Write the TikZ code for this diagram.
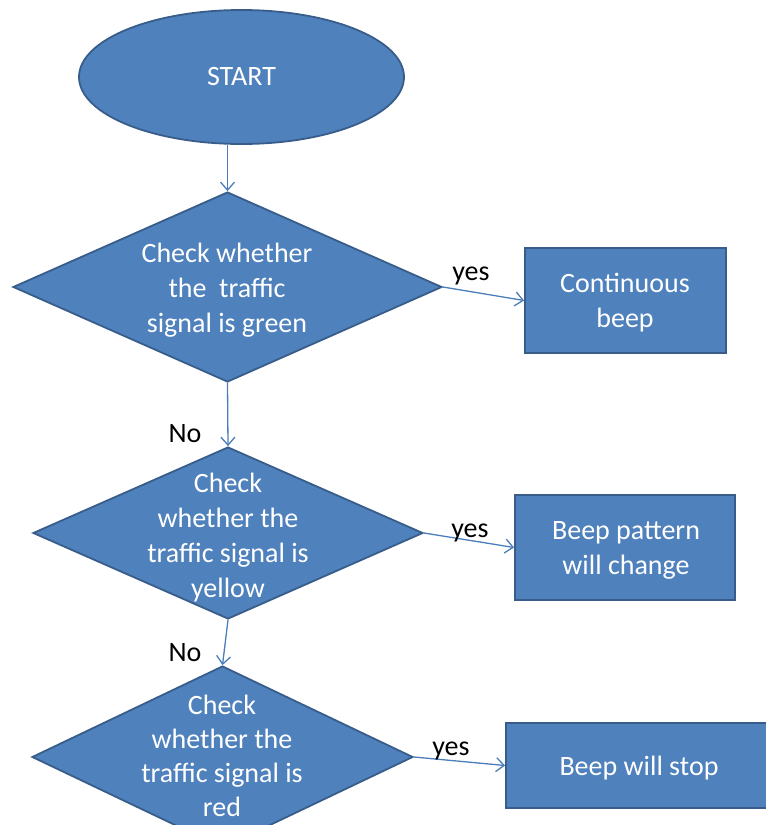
\documentclass[tikz,border=0pt]{standalone}
\usepackage{fontspec}
\setmainfont{Carlito}
\usetikzlibrary{shapes.geometric,arrows.meta}
\definecolor{fillblue}{HTML}{4F81BD}
\definecolor{edgeblue}{HTML}{385D8A}
\definecolor{lineblue}{HTML}{4A7EBB}
\begin{document}
\begin{tikzpicture}[x=1pt,y=-1pt,
  shapebox/.style={draw=edgeblue,line width=1.8pt,fill=fillblue,inner sep=0pt},
  txt/.style={text=white,font=\fontsize{28}{35}\selectfont,align=center,inner sep=0pt},
  lbl/.style={text=black,font=\fontsize{28}{35}\selectfont,inner sep=0pt,anchor=base},
  arr/.style={draw=lineblue,line width=1.3pt,-{Straight Barb[length=8pt,width=14pt,line width=1.3pt]}}]
\useasboundingbox (0,0) rectangle (766,825);
\clip (0,0) rectangle (766,825);
% start
\node[shapebox,ellipse,minimum width=325pt,minimum height=134pt] (start) at (241.5,77) {};
\node[txt] (starttxt) at (start.center) {START};
% decisions
\node[shapebox,diamond,minimum width=429pt,minimum height=190pt] (d1) at (227.5,287) {};
\node[txt] (d1t) at (227,290) {Check whether\\the~ traffic\\signal is green};
\node[shapebox,diamond,minimum width=390pt,minimum height=172pt] (d2) at (228,533) {};
\node[txt] (d2t) at (228,537.5) {Check\\whether the\\traffic signal is\\yellow};
\node[shapebox,diamond,minimum width=381pt,minimum height=182pt] (d3) at (222.5,757) {};
\node[txt,font=\fontsize{28}{34}\selectfont] (d3t) at (222,755.5) {Check\\whether the\\traffic signal is\\red};
% actions
\node[shapebox,rectangle,minimum width=201pt,minimum height=105pt] (b1) at (625.5,300.5) {};
\node[txt] (b1t) at (625,303) {Continuous\\beep};
\node[shapebox,rectangle,minimum width=220pt,minimum height=105pt] (b2) at (625,547.5) {};
\node[txt] (b2t) at (626,550) {Beep pattern\\will change};
\node[shapebox,rectangle,minimum width=266pt,minimum height=85pt] (b3) at (639,765.5) {};
\node[txt] (b3t) at (639,768) {Beep will stop};
% connectors
\draw[arr] (start.south -| d1.north) -- (d1.north);
\draw[arr] (d1.east) -- (b1.west);
\draw[arr] (d1.south) -- (d2.north);
\draw[arr] (d2.east) -- (b2.west);
\draw[arr] (d2.south) -- (d3.north);
\draw[arr] (d3.east) -- (b3.west);
% labels
\node[lbl] (yes1) at (471,280) {yes};
\node[lbl] (no1) at (185,442) {No};
\node[lbl] (yes2) at (470,537) {yes};
\node[lbl] (no2) at (185,661) {No};
\node[lbl] (yes3) at (451,755) {yes};
\end{tikzpicture}
\end{document}
